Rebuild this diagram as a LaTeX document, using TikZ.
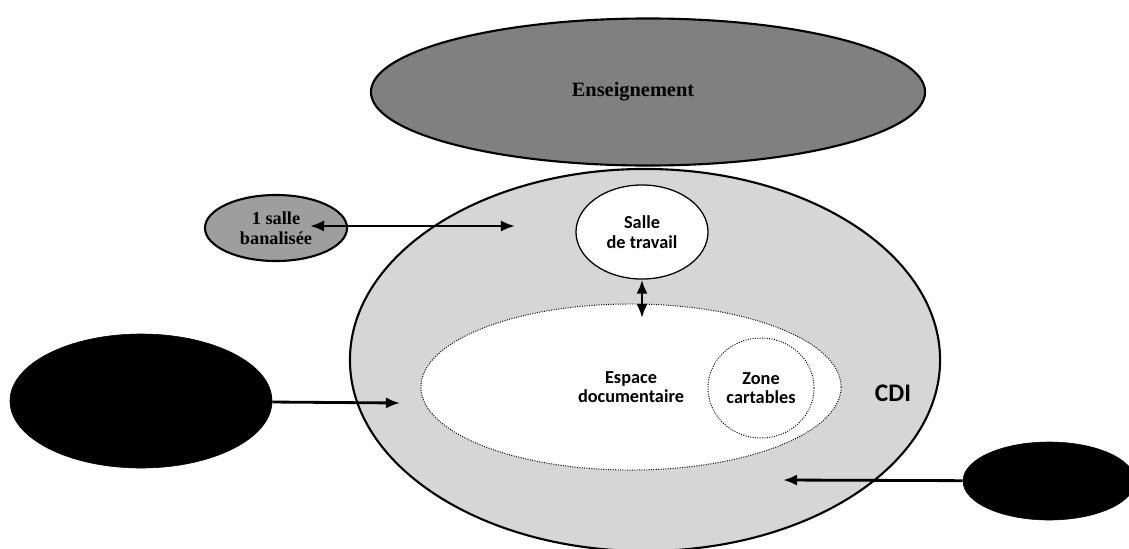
\documentclass[tikz,border=0pt]{standalone}
\usepackage{fontspec}
\setmainfont{Carlito}
\newfontfamily\titlefont{Liberation Serif}
\usetikzlibrary{positioning, shapes.geometric, arrows.meta}

\begin{document}
\begin{tikzpicture}[x=0.025cm, y=-0.025cm,
  zone/.style={draw, ellipse, inner sep=0pt, align=center, font=\bfseries\fontsize{13}{14}\selectfont},
  outer/.style={zone, line width=1.5pt},
  inner/.style={zone, fill=white, densely dotted, line width=0.7pt},
  source/.style={draw, ellipse, fill=black, inner sep=0pt},
  link/.style={-{Latex[length=10pt,width=8pt]}, line width=2pt},
  both/.style={{Latex[length=10pt,width=8pt]}-{Latex[length=10pt,width=8pt]}, line width=2pt}
]
\useasboundingbox (0,0) rectangle (1129,548);

% CDI and teaching
\node[outer, fill=black!16, minimum width=14.75cm, minimum height=9.55cm] (CDI) at (645,360) {};
\node[outer, fill=black!50, minimum width=13.85cm, minimum height=3.675cm] (Enseignement) at (648,92) {};
\node[font=\titlefont\bfseries\fontsize{14.5}{15}\selectfont] (EnsText) at (633,92) {Enseignement};

% Spaces inside the CDI
\node[inner, minimum width=10.5cm, minimum height=4.15cm] (Espace) at (631,387) {Espace\\documentaire};
\node[inner, minimum width=2.65cm, minimum height=2.5cm] (Zone) at (761,388) {Zone\\cartables};
\node[font=\bfseries\fontsize{18}{20}\selectfont] (CDIText) at (893,393) {CDI};
\node[zone, fill=white, line width=0.9pt, minimum width=3.3cm, minimum height=2.35cm] (Salle) at (642,232) {Salle\\de travail};

% Outside rooms
\node[outer, fill=black!38, font=\titlefont\bfseries\fontsize{13}{14}\selectfont, minimum width=3.55cm, minimum height=1.65cm] (Banal) at (276,228) {1 salle\\banalisée};
\node[source, minimum width=6.55cm, minimum height=3.35cm] (SourceLeft) at (141,401) {};
\node[source, minimum width=4.3cm, minimum height=1.95cm] (SourceRight) at (1049,481) {};

% Links
\coordinate (banalEnd) at (310,226);
\coordinate (cdiTop) at (515,226);
\coordinate (espTop) at (642,318);
\coordinate (cdiLeft) at (400,403);
\coordinate (cdiRight) at (783,480);
\draw[both] (banalEnd) -- (cdiTop);
\draw[both] (Salle) -- (espTop);
\draw[link] (SourceLeft) -- (cdiLeft);
\draw[link] (SourceRight) -- (cdiRight);

\end{tikzpicture}
\end{document}
